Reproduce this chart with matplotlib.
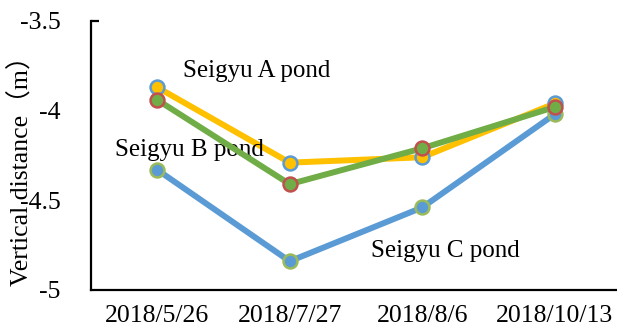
import matplotlib
matplotlib.use("Agg")
import matplotlib.pyplot as plt

dates = ["2018/5/26", "2018/7/27", "2018/8/6", "2018/10/13"]
pond_a = [-3.87, -4.29, -4.26, -3.96]
pond_b = [-3.94, -4.41, -4.21, -3.98]
pond_c = [-4.33, -4.84, -4.54, -4.02]
yticks = [-3.5, -4, -4.5, -5]
ytick_labels = ["-3.5", "-4", "-4.5", "-5"]

serif = ["Liberation Serif", "Noto Sans CJK JP"]
fs = 18.5

fig = plt.figure(figsize=(6.17, 3.31), dpi=100)
ax = fig.add_axes([0.1475, 0.124, 0.8525, 0.8126])

x = range(len(dates))
# yellow line / blue edge, green line / red edge, blue line / green edge
ax.plot(x, pond_a, color="#FFC000", lw=4.3, marker="o", ms=10,
        mfc="#FFC000", mec="#5B9BD5", mew=1.8, zorder=3)
ax.plot(x, pond_b, color="#70AD47", lw=4.3, marker="o", ms=10,
        mfc="#70AD47", mec="#C0504D", mew=1.8, zorder=4)
ax.plot(x, pond_c, color="#5B9BD5", lw=4.3, marker="o", ms=10,
        mfc="#5B9BD5", mec="#9BBB59", mew=1.8, zorder=2)

ax.set_xlim(-0.5, 3.47)
ax.set_ylim(-5, -3.5)

ax.set_xticks(list(x))
ax.set_xticklabels(dates, family=serif, fontsize=fs)
ax.set_yticks(yticks)
ax.set_yticklabels(ytick_labels, family=serif, fontsize=fs)
ax.tick_params(axis="both", length=0)
ax.tick_params(axis="x", pad=11)
ax.tick_params(axis="y", pad=22)

for s in ["top", "right"]:
    ax.spines[s].set_visible(False)
for s in ["left", "bottom"]:
    ax.spines[s].set_linewidth(1.6)
# small cap at the top of the value axis
ax.plot([0, 0.016], [1, 1], transform=ax.transAxes, color="black",
        lw=1.6, clip_on=False, solid_capstyle="butt")

ax.set_ylabel("Vertical distance（m）", family=serif, fontsize=fs)
ax.yaxis.set_label_coords(-0.11, 0.465)

ax.text(0.196, -3.78, "Seigyu A pond", family=serif, fontsize=18,
        va="center", ha="left")
ax.text(-0.317, -4.222, "Seigyu B pond", family=serif, fontsize=18,
        va="center", ha="left")
ax.text(1.615, -4.78, "Seigyu C pond", family=serif, fontsize=18,
        va="center", ha="left")

fig.savefig("out.png", dpi=100)
